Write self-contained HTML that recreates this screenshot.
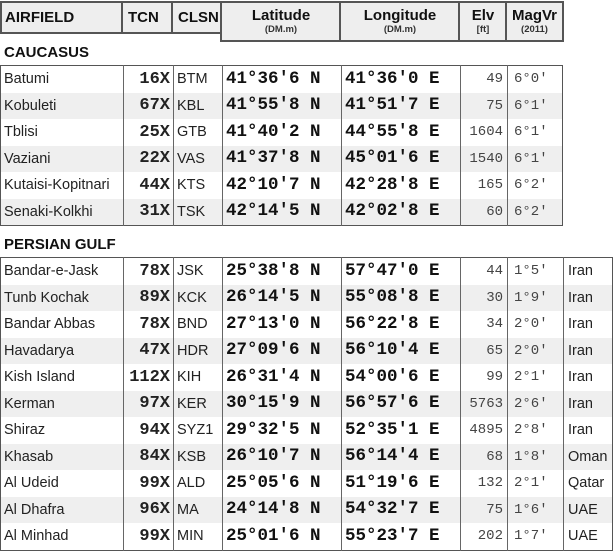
<!DOCTYPE html>
<html><head><meta charset="utf-8">
<style>
body{margin:0;width:613px;height:551px;background:#fff;position:relative;overflow:hidden;font-family:"Liberation Sans",Arial,sans-serif;}
.c{position:absolute;box-sizing:border-box;display:flex;align-items:center;white-space:nowrap;overflow:hidden;line-height:1;}
.h{background:#eeeeee;border:2px solid #555;font-weight:bold;font-size:15px;color:#111;}
.hc{flex-direction:column;justify-content:center;line-height:16px;}
.hc small{font-size:9.5px;font-weight:bold;color:#333;line-height:11px;}
.sec{position:absolute;left:4px;font-weight:bold;font-size:15px;color:#111;}
.tbl{position:absolute;border:2px solid #555;box-sizing:border-box;}
.nm{font-size:14.5px;color:#222;padding-left:3px;}
.tcn{font-family:"Liberation Mono",monospace;font-weight:bold;font-size:17px;justify-content:flex-end;padding-right:3px;color:#222;}
.cl{font-size:14.5px;color:#222;padding-left:3px;}
.co{font-family:"Liberation Mono",monospace;font-weight:bold;font-size:17.5px;padding-left:3px;color:#111;}
.el{font-family:"Liberation Mono",monospace;font-size:14px;justify-content:flex-end;padding-right:4px;color:#444;}
.mv{font-family:"Liberation Mono",monospace;font-size:14px;padding-left:6px;color:#444;}
.ct{font-size:14.5px;color:#222;padding-left:4px;}
</style></head>
<body>
<div id="root"></div>
<script>
const colX=[0,123,173,222,341,460,507,563,613];
const headers=[["AIRFIELD",""],["TCN",""],["CLSN",""],["Latitude","(DM.m)"],["Longitude","(DM.m)"],["Elv","[ft]"],["MagVr","(2011)"]];
const headerNames=["airfield-header","tcn-header","clsn-header","latitude-header","longitude-header","elevation-header","magvar-header"];
const caucNames=["Batumi","Kobuleti","Tblisi","Vaziani","Kutaisi-Kopitnari","Senaki-Kolkhi"];
const caucTcn=["16X","67X","25X","22X","44X","31X"];
const caucCl=["BTM","KBL","GTB","VAS","KTS","TSK"];
const caucLat=["41°36'6 N","41°55'8 N","41°40'2 N","41°37'8 N","42°10'7 N","42°14'5 N"];
const caucLon=["41°36'0 E","41°51'7 E","44°55'8 E","45°01'6 E","42°28'8 E","42°02'8 E"];
const caucElv=["49","75","1604","1540","165","60"];
const caucMv=["6°0'","6°1'","6°1'","6°1'","6°2'","6°2'"];
const pgNames=["Bandar-e-Jask","Tunb Kochak","Bandar Abbas","Havadarya","Kish Island","Kerman","Shiraz","Khasab","Al Udeid","Al Dhafra","Al Minhad"];
const pgTcn=["78X","89X","78X","47X","112X","97X","94X","84X","99X","96X","99X"];
const pgCl=["JSK","KCK","BND","HDR","KIH","KER","SYZ1","KSB","ALD","MA","MIN"];
const pgLat=["25°38'8 N","26°14'5 N","27°13'0 N","27°09'6 N","26°31'4 N","30°15'9 N","29°32'5 N","26°10'7 N","25°05'6 N","24°14'8 N","25°01'6 N"];
const pgLon=["57°47'0 E","55°08'8 E","56°22'8 E","56°10'4 E","54°00'6 E","56°57'6 E","52°35'1 E","56°14'4 E","51°19'6 E","54°32'7 E","55°23'7 E"];
const pgElv=["44","30","34","65","99","5763","4895","68","132","75","202"];
const pgMv=["1°5'","1°9'","2°0'","2°0'","2°1'","2°6'","2°8'","1°8'","2°1'","1°6'","1°7'"];
const pgCountry=["Iran","Iran","Iran","Iran","Iran","Iran","Iran","Oman","Qatar","UAE","UAE"];

const root=document.getElementById('root');
function mk(cls,x,y,w,h,txt){
  const d=document.createElement('div');
  d.className='c '+cls;
  d.style.left=x+'px';d.style.top=y+'px';d.style.width=w+'px';d.style.height=h+'px';
  if(txt!==undefined)d.textContent=txt;
  root.appendChild(d);return d;
}
headers.forEach((hd,i)=>{
  const x=colX[i]-(i?2:0), w=colX[i+1]-colX[i]+(i?2:0)+1;
  const h=i<3?33:41;
  const d=mk('h'+(hd[1]?' hc':''),x,1,w,h);
  
  
  if(hd[1]){d.innerHTML='<span>'+hd[0]+'</span><small>'+hd[1]+'</small>';}
  else{d.textContent=hd[0];d.style.paddingLeft=(i==0?3:5)+'px';}
});
function section(label,ly,top,n,names,tcn,cl,lat,lon,elv,mv,country){
  const s=document.createElement('div');s.className='sec';s.style.top=ly+'px';s.textContent=label;
  
  
  root.appendChild(s);
  const rh=26.5;
  const cols=country?8:7;
  const right=colX[cols];
  const t=document.createElement('div');t.className='tbl';
  t.style.left='0px';t.style.top=top+'px';t.style.width=right+'px';t.style.height=(n*rh+2)+'px';
  
  
  root.appendChild(t);
  for(let r=0;r<n;r++){
    const y=top+1+r*rh;
    const bg=mk('',1,y,right-2,rh);
    bg.style.background=(r%2)?'#efefef':'#fff';
    
    
    const vals=[names[r],tcn[r],cl[r],lat[r],lon[r],elv[r],mv[r]];
    if(country)vals.push(country[r]);
    const cls=['nm','tcn','cl','co','co','el','mv','ct'];
    const cn=['airfield-name','tacan-channel','callsign','latitude','longitude','elevation','magnetic-variation','country'];
    vals.forEach((v,i)=>{
      const c=mk(cls[i],colX[i]+1,y,colX[i+1]-colX[i]-1,rh,v);
      
      
    });
  }
  for(let i=1;i<cols;i++){
    const l=mk('',colX[i],top,1,n*rh+2);l.style.background='#666';
    
    
  }
}
section('CAUCASUS',44,65,6,caucNames,caucTcn,caucCl,caucLat,caucLon,caucElv,caucMv,null);
section('PERSIAN GULF',236,257,11,pgNames,pgTcn,pgCl,pgLat,pgLon,pgElv,pgMv,pgCountry);
</script>
</body></html>
